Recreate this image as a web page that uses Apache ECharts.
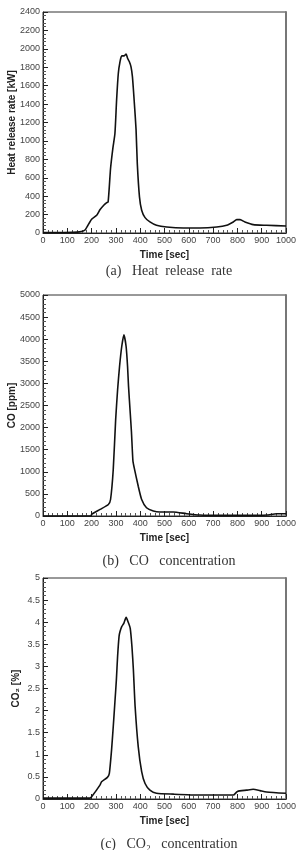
<!DOCTYPE html>
<html>
<head>
<meta charset="utf-8">
<script src="https://cdn.jsdelivr.net/npm/echarts@6/dist/echarts.min.js"></script>
<style>
  html, body { margin: 0; padding: 0; background: #fff; }
  #chart { width: 296px; height: 850px; }
</style>
</head>
<body>
<div id="chart"></div>
<script>
// values
const hrrTime = [0, 60, 120, 150, 173, 200, 221, 235, 250, 261, 268, 278, 288, 296, 303, 310, 317, 324, 333, 342, 348, 355, 362, 368, 376, 383, 388, 397, 406, 420, 440, 467, 509, 578, 646, 715, 756, 783, 797, 811, 831, 865, 920, 1000];
const hrrValue = [5, 5, 8, 12, 33, 150, 193, 255, 302, 327, 338, 700, 930, 1080, 1450, 1735, 1862, 1924, 1924, 1942, 1898, 1862, 1807, 1698, 1407, 1120, 756, 393, 247, 167, 120, 84, 65, 55, 55, 65, 84, 120, 145, 145, 120, 91, 84, 76];

const coTime = [0, 100, 198, 200, 235, 269, 278, 289, 299, 307, 315, 324, 333, 342, 348, 352, 359, 364, 370, 375, 392, 406, 426, 454, 481, 536, 591, 646, 715, 852, 920, 961, 1000];
const coValue = [0, 0, 0, 37, 149, 261, 373, 1045, 2180, 2857, 3383, 3835, 4098, 3835, 3383, 2932, 2331, 1900, 1250, 1100, 672, 373, 187, 112, 90, 90, 52, 22, 15, 15, 22, 52, 52];

const co2Time = [0, 100, 193, 200, 235, 241, 265, 273, 282, 289, 296, 302, 307, 313, 317, 324, 333, 342, 352, 359, 366, 372, 379, 392, 406, 420, 440, 467, 536, 646, 783, 800, 838, 865, 893, 920, 1000];
const co2Value = [0.02, 0.02, 0.02, 0.05, 0.32, 0.39, 0.49, 0.58, 1.1, 1.63, 2.2, 2.7, 3.23, 3.68, 3.79, 3.9, 3.98, 4.11, 3.98, 3.86, 3.45, 2.92, 2.1, 1.18, 0.62, 0.35, 0.2, 0.13, 0.11, 0.09, 0.09, 0.17, 0.2, 0.22, 0.19, 0.16, 0.13];

const yNames = ['Heat release rate [kW]', 'CO [ppm]', 'CO\u2082 [%]'];
const yMax = [2400, 5000, 5];
const yStep = [200, 500, 0.5];
const captions = ['(a)   Heat  release  rate', '(b)   CO   concentration', '(c)   CO\u2082   concentration'];

const gridTops = [12, 295, 578];
const gridHeight = 221;
const captionTops = [259, 549, 832];
const yNameGaps = [26, 26, 22];

function pairs(t, v) {
  return t.map((x, i) => [x, v[i]]);
}

const seriesData = [pairs(hrrTime, hrrValue), pairs(coTime, coValue), pairs(co2Time, co2Value)];

const labelFont = 'Liberation Sans, Arial, sans-serif';
const plain = v => String(v);

let grids = [], xAxes = [], yAxes = [], series = [], titles = [];
for (let i = 0; i < 3; i++) {
  grids.push({
    left: 43, width: 243, top: gridTops[i], height: gridHeight,
    outerBoundsMode: 'none', containLabel: false,
    show: true, borderColor: '#333', borderWidth: 1, backgroundColor: 'transparent'
  });
  xAxes.push({
    type: 'value', gridIndex: i, min: 0, max: 1000, interval: 100,
    name: 'Time [sec]', nameLocation: 'middle', nameGap: 17, nameMoveOverlap: false,
    nameTextStyle: { fontFamily: labelFont, fontSize: 10, fontWeight: 'bold', color: '#222' },
    axisLine: { show: true, lineStyle: { color: '#222', width: 1 } },
    axisTick: { show: true, inside: true, length: 5, lineStyle: { color: '#222' } },
    minorTick: { show: true, splitNumber: 5, length: 3, lineStyle: { color: '#555' } },
    axisLabel: { fontFamily: labelFont, fontSize: 9, color: '#444', margin: 3, formatter: plain },
    splitLine: { show: false }
  });
  yAxes.push({
    type: 'value', gridIndex: i, min: 0, max: yMax[i], interval: yStep[i],
    name: yNames[i], nameLocation: 'middle', nameGap: yNameGaps[i], nameMoveOverlap: false,
    nameTextStyle: { fontFamily: labelFont, fontSize: 10, fontWeight: 'bold', color: '#222' },
    axisLine: { show: true, lineStyle: { color: '#222', width: 1 } },
    axisTick: { show: true, inside: true, length: 5, lineStyle: { color: '#222' } },
    minorTick: { show: true, splitNumber: 5, length: 3, lineStyle: { color: '#555' } },
    axisLabel: { fontFamily: labelFont, fontSize: 9, color: '#444', margin: 3, formatter: plain },
    splitLine: { show: false }
  });
  // heavier right border
  yAxes.push({
    type: 'value', gridIndex: i, position: 'right', min: 0, max: yMax[i],
    axisLine: { show: true, lineStyle: { color: '#777', width: 2 } },
    axisTick: { show: false }, axisLabel: { show: false }, splitLine: { show: false }
  });
  series.push({
    type: 'line', xAxisIndex: i, yAxisIndex: i * 2,
    data: seriesData[i], symbol: 'none', smooth: 0.2,
    lineStyle: { color: '#111', width: 1.6 }
  });
  titles.push({
    text: captions[i], left: 164, textAlign: 'center', top: captionTops[i],
    textStyle: { fontFamily: 'Liberation Serif, Times New Roman, serif', fontSize: 14, fontWeight: 'normal', color: '#333' }
  });
}

const chart = echarts.init(document.getElementById('chart'));
chart.setOption({
  animation: false,
  backgroundColor: '#fff',
  title: titles,
  grid: grids,
  xAxis: xAxes,
  yAxis: yAxes,
  series: series
});
</script>
</body>
</html>
